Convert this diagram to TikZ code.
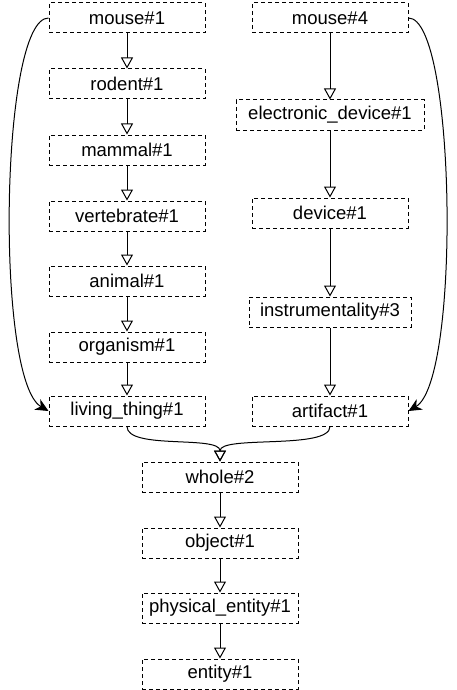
\documentclass[tikz,border=0pt]{standalone}
\usepackage{fontspec}
\setmainfont{Liberation Sans}
\usetikzlibrary{arrows.meta}
\begin{document}
\begin{tikzpicture}[x=1pt,y=-1pt,
  syn/.style={draw,dash pattern=on 4pt off 3pt,line width=1pt,minimum width=156pt,minimum height=30pt,inner xsep=6pt,font=\fontsize{18.5}{20}\selectfont},
  isa/.style={-{Triangle[open,length=11pt,width=12pt]},line width=1pt},
  link/.style={-{Stealth[length=13pt,width=12pt,inset=4pt]},line width=1pt}]
\useasboundingbox (0,0) rectangle (456,690);
\node[syn] (m1) at (127,18) {mouse\#1};
\node[syn] (rod) at (127,84) {rodent\#1};
\node[syn] (mam) at (127,150) {mammal\#1};
\node[syn] (ver) at (127,216) {vertebrate\#1};
\node[syn] (ani) at (127,281) {animal\#1};
\node[syn] (org) at (127,347) {organism\#1};
\node[syn] (liv) at (127,411) {living\_thing\#1};
\node[syn] (m4) at (330,18) {mouse\#4};
\node[syn,minimum width=188pt] (ele) at (330,115) {electronic\_device\#1};
\node[syn] (dev) at (330,213) {device\#1};
\node[syn,minimum width=162pt] (ins) at (330,312) {instrumentality\#3};
\node[syn] (art) at (330,411) {artifact\#1};
\node[syn] (who) at (220,477) {whole\#2};
\node[syn] (obj) at (220,543) {object\#1};
\node[syn] (phy) at (220,608) {physical\_entity\#1};
\node[syn] (ent) at (220,674) {entity\#1};
\foreach \a/\b in {m1/rod,rod/mam,mam/ver,ver/ani,ani/org,org/liv,m4/ele,ele/dev,dev/ins,ins/art,who/obj,obj/phy,phy/ent}
  \draw[isa] (\a.south) -- (\b.north);
\draw[isa] (liv.south) .. controls (127,450) and (220,435) .. (who.north);
\draw[isa] (art.south) .. controls (330,450) and (220,435) .. (who.north);
\draw[link] (m1.west) .. controls (0,18) and (-5,380) .. (liv.west);
\draw[link] (m4.east) .. controls (456,18) and (461,380) .. (art.east);
\end{tikzpicture}
\end{document}
